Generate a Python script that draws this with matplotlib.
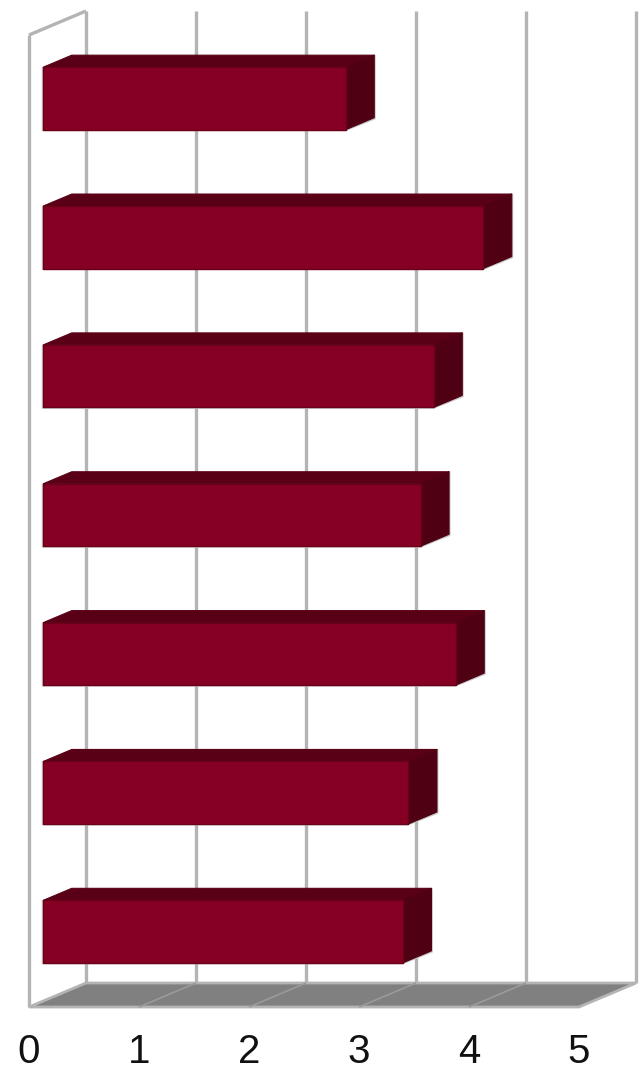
import matplotlib
matplotlib.use("Agg")
import matplotlib.pyplot as plt
from matplotlib.patches import Polygon
from matplotlib.lines import Line2D

# ---- data ----
categories = ["Item 1", "Item 2", "Item 3", "Item 4", "Item 5", "Item 6", "Item 7"]
values = [2.75, 4.0, 3.55, 3.43, 3.75, 3.32, 3.27]
x_ticks = [0, 1, 2, 3, 4, 5]
x_tick_labels = ["0", "1", "2", "3", "4", "5"]

# ---- style ----
W, H, DPI = 643, 1074, 100
front_col = "#850022"
top_col = "#5a0016"
side_col = "#4f0012"
grid_col = "#b4b4b4"
floor_col = "#808080"
depth_px = (57, 24)  # full box depth offset in pixels (right, up)

fig = plt.figure(figsize=(W / DPI, H / DPI), dpi=DPI)
ax = fig.add_axes([29 / W, (H - 1007) / H, 550 / W, (1007 - 35) / H])
ax.set_xlim(x_ticks[0], x_ticks[-1])
n = len(categories)
ax.set_ylim(n - 0.5, -0.5)
for s in ax.spines.values():
    s.set_visible(False)
ax.set_yticks([])
ax.set_xticks(x_ticks)
ax.set_xticklabels(x_tick_labels, fontsize=29, family="Liberation Sans", color="#111111")
ax.tick_params(axis="x", length=0, pad=18.5)
ax.patch.set_alpha(0)

# conversion of depth to data units
ax_w_px = 550
ax_h_px = 1007 - 35
ux = ax_w_px / (x_ticks[-1] - x_ticks[0])
uy = ax_h_px / n


def P(x, y, d, ox=0.0, oy=0.0):
    # y axis inverted: "up" means decreasing data y; ox/oy pixel nudges
    return (x + (d * depth_px[0] + ox) / ux, y - (d * depth_px[1] - oy) / uy)


def line(pts, color=grid_col, lw=2.4, z=1):
    xs, ys = zip(*pts)
    ax.add_line(Line2D(xs, ys, color=color, lw=lw, zorder=z, clip_on=False,
                       solid_capstyle="butt"))


y_top, y_bot = -0.5, n - 0.5
# back wall grid lines
for t in x_ticks:
    line([P(t, y_top, 1), P(t, y_bot, 1)])
# left wall
line([P(0, y_top, 0), P(0, y_bot, 0)])
line([P(0, y_top, 0), P(0, y_top, 1)])

# floor
floor = Polygon([P(0, y_bot, 0), P(5, y_bot, 0), P(5, y_bot, 1), P(0, y_bot, 1)],
                closed=True, facecolor=floor_col, edgecolor=grid_col, lw=2.0,
                zorder=2, clip_on=False, joinstyle="miter")
ax.add_patch(floor)
for t in x_ticks[1:-1]:
    line([P(t, y_bot, 0), P(t, y_bot, 1)], color="#9a9a9a", lw=1.2, z=2.5)

# bars
bh = 0.225
d0, d1 = 0.25, 0.75
for i, v in enumerate(values):
    yt, yb = i - bh, i + bh
    # soft shadow around the bar
    shadow = Polygon([P(0, yt, d0, -1.5, 0), P(0, yb, d0, -1.5, 1.5),
                      P(v, yb, d0, 0, 1.5), P(v, yb, d1, 1.5, 1.5),
                      P(v, yt, d1, 1.5, 0)],
                     closed=True, facecolor="#c8c8c8", edgecolor="none",
                     zorder=2.8, clip_on=False)
    ax.add_patch(shadow)
    top = Polygon([P(0, yt, d0), P(v, yt, d0), P(v, yt, d1), P(0, yt, d1)],
                  closed=True, facecolor=top_col, edgecolor=top_col, lw=0.8,
                  zorder=3, clip_on=False, joinstyle="round")
    side = Polygon([P(v, yt, d0), P(v, yb, d0), P(v, yb, d1), P(v, yt, d1)],
                   closed=True, facecolor=side_col, edgecolor=side_col, lw=0.8,
                   zorder=3, clip_on=False, joinstyle="round")
    front = Polygon([P(0, yt, d0), P(v, yt, d0), P(v, yb, d0), P(0, yb, d0)],
                    closed=True, facecolor=front_col, edgecolor="#6a001a", lw=1.0,
                    zorder=4, clip_on=False, joinstyle="round")
    ax.add_patch(top)
    ax.add_patch(side)
    ax.add_patch(front)

fig.savefig("out.png", dpi=DPI, facecolor="white")
